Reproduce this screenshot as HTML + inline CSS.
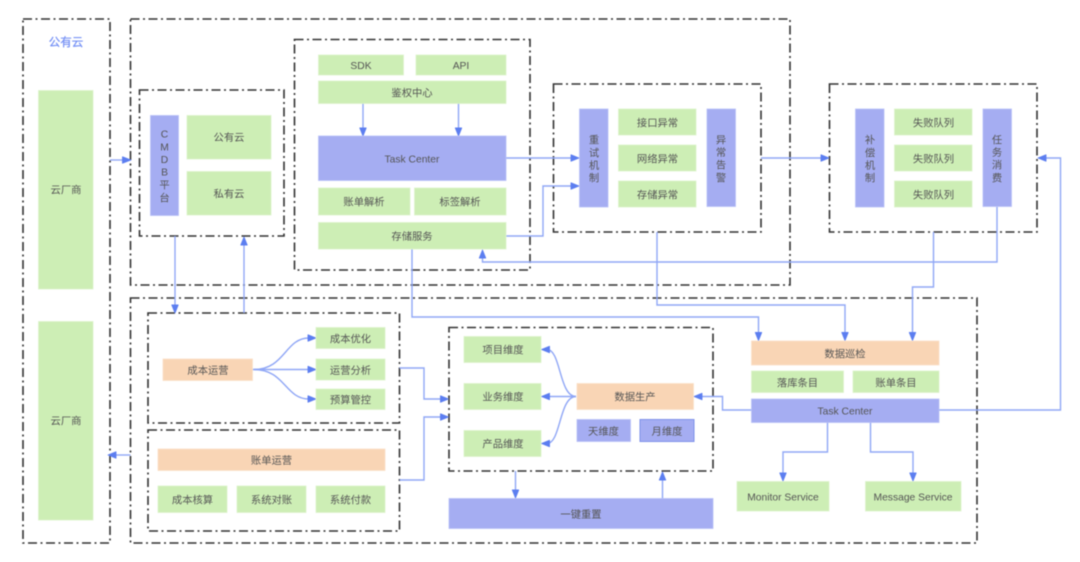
<!DOCTYPE html>
<html>
<head>
<meta charset="utf-8">
<style>
html,body{margin:0;padding:0;background:#fff;width:1080px;height:562px;overflow:hidden}
svg{display:block;filter:blur(0.4px)}
text{font-family:"Liberation Sans","Noto Sans CJK SC",sans-serif;font-size:10.3px;fill:#555;text-anchor:middle;dominant-baseline:central;transform:translateY(1px)}
.f{fill:none;stroke:#333;stroke-width:1.6;stroke-dasharray:9 3.5 2 3.5}
.g{fill:#cdeeb5;stroke:#dcf3cb;stroke-width:.8}
.b{fill:#a5adf2;stroke:#b8c0f7;stroke-width:.8}
.o{fill:#f9d5b5;stroke:#fbe0c8;stroke-width:.8}
.l{fill:none;stroke:#90a7f6;stroke-width:1.4}
.a{fill:#5c7ef0;stroke:#5c7ef0;stroke-width:.9;stroke-linejoin:round}
</style>
</head>
<body>
<svg width="1080" height="562" viewBox="0 0 1080 562" xmlns="http://www.w3.org/2000/svg">
<!-- frames -->
<rect class="f" x="23" y="19" width="87" height="524"/>
<rect class="f" x="130.500" y="19" width="659.500" height="266"/>
<rect class="f" x="139.500" y="90" width="144.500" height="146"/>
<rect class="f" x="294.500" y="39.500" width="235.500" height="230.500"/>
<rect class="f" x="553.500" y="84" width="207.500" height="148"/>
<rect class="f" x="829.500" y="84" width="207.500" height="148"/>
<rect class="f" x="130.500" y="298" width="846.500" height="245"/>
<rect class="f" x="148" y="313" width="251.500" height="110"/>
<rect class="f" x="148" y="430" width="251.500" height="101"/>
<rect class="f" x="449" y="327.500" width="264" height="143.500"/>

<!-- connectors -->
<path class="l" d="M110 160H124"/>
<path class="l" d="M175 236V306"/>
<path class="l" d="M244 313V243"/>
<path class="l" d="M363 103.500V129"/>
<path class="l" d="M458.500 103.500V129"/>
<path class="l" d="M506 158H572"/>
<path class="l" d="M506 236H543V186H572"/>
<path class="l" d="M997 207V262H482.500V256"/>
<path class="l" d="M412 249V317H758.500V334"/>
<path class="l" d="M657 232V305H845V334"/>
<path class="l" d="M933.500 232V287H912.500V334"/>
<path class="l" d="M761 158H822"/>
<path class="l" d="M939 410H1060.500V158H1044"/>
<path class="l" d="M751.500 410H722.500V396.500H700"/>
<path class="l" d="M827.500 422.500V452H783V474"/>
<path class="l" d="M870.500 422.500V452H913V474"/>
<path class="l" d="M515.500 471V491"/>
<path class="l" d="M662.500 498.500V478"/>
<path class="l" d="M399.500 368H424V399H442"/>
<path class="l" d="M399.500 480H424V417H442"/>
<path class="l" d="M130.500 455H115"/>
<path class="l" d="M252.500 369.500H309"/>
<path class="l" d="M254 369.500C285 369.500 285 338 309 338"/>
<path class="l" d="M254 369.500C285 369.500 285 399 309 399"/>
<path class="l" d="M576 396.500H548"/>
<path class="l" d="M576 396.500C559 396.500 561 349.500 547 349.500"/>
<path class="l" d="M576 396.500C559 396.500 561 443.500 547 443.500"/>

<!-- arrowheads -->
<path class="a" d="M122.500 156.800L131 160L122.500 163.200Z"/>
<path class="a" d="M171.800 305L175 313L178.200 305Z"/>
<path class="a" d="M240.800 245L244 237L247.200 245Z"/>
<path class="a" d="M359.800 128L363 136L366.200 128Z"/>
<path class="a" d="M455.300 128L458.500 136L461.700 128Z"/>
<path class="a" d="M571 154.800L579 158L571 161.200Z"/>
<path class="a" d="M571 182.800L579 186L571 189.200Z"/>
<path class="a" d="M479.300 258L482.500 250L485.700 258Z"/>
<path class="a" d="M755.300 332.500L758.500 340.500L761.700 332.500Z"/>
<path class="a" d="M841.800 332.500L845 340.500L848.200 332.500Z"/>
<path class="a" d="M909.300 332.500L912.500 340.500L915.700 332.500Z"/>
<path class="a" d="M821 154.800L829 158L821 161.200Z"/>
<path class="a" d="M1046 154.800L1038 158L1046 161.200Z"/>
<path class="a" d="M702 393.300L694 396.500L702 399.700Z"/>
<path class="a" d="M779.800 473L783 481L786.200 473Z"/>
<path class="a" d="M909.800 473L913 481L916.200 473Z"/>
<path class="a" d="M512.300 490L515.500 498L518.700 490Z"/>
<path class="a" d="M659.300 480L662.500 472L665.700 480Z"/>
<path class="a" d="M440.500 395.800L448.500 399L440.500 402.200Z"/>
<path class="a" d="M440.500 413.800L448.500 417L440.500 420.200Z"/>
<path class="a" d="M116 451.800L108 455L116 458.200Z"/>
<path class="a" d="M308 334.800L316 338L308 341.200Z"/>
<path class="a" d="M308 366.300L316 369.500L308 372.700Z"/>
<path class="a" d="M308 395.800L316 399L308 402.200Z"/>
<path class="a" d="M549.500 346.300L541.500 349.500L549.500 352.700Z"/>
<path class="a" d="M549.500 393.300L541.500 396.500L549.500 399.700Z"/>
<path class="a" d="M549.500 440.300L541.500 443.500L549.500 446.700Z"/>

<!-- nodes -->
<rect class="g" x="38.500" y="90.500" width="54.500" height="198.500"/>
<rect class="g" x="38.500" y="321.500" width="54.500" height="198.500"/>
<rect class="b" x="150.500" y="115.500" width="28" height="100"/>
<rect class="g" x="187" y="115.500" width="84" height="43.500"/>
<rect class="g" x="187" y="171.500" width="84" height="43.500"/>
<rect class="g" x="318.500" y="55" width="85" height="20"/>
<rect class="g" x="416" y="55" width="90" height="20"/>
<rect class="g" x="318.500" y="81" width="187.500" height="22.500"/>
<rect class="b" x="318.500" y="136" width="187.500" height="44.500"/>
<rect class="g" x="318.500" y="188" width="91.500" height="27"/>
<rect class="g" x="414.500" y="188" width="91.500" height="27"/>
<rect class="g" x="318.500" y="222.500" width="187.500" height="26.500"/>
<rect class="b" x="579.500" y="109" width="28.500" height="98"/>
<rect class="g" x="618.500" y="109" width="77.500" height="26"/>
<rect class="g" x="618.500" y="145" width="77.500" height="26"/>
<rect class="g" x="618.500" y="181" width="77.500" height="26"/>
<rect class="b" x="707" y="109" width="28.500" height="97.500"/>
<rect class="b" x="855.500" y="109" width="28.500" height="98"/>
<rect class="g" x="894.500" y="109" width="77.500" height="26"/>
<rect class="g" x="894.500" y="145" width="77.500" height="26"/>
<rect class="g" x="894.500" y="181" width="77.500" height="26"/>
<rect class="b" x="983" y="109" width="28.500" height="97.500"/>
<rect class="o" x="163" y="359" width="89.500" height="21.500"/>
<rect class="g" x="316" y="327.500" width="69" height="21"/>
<rect class="g" x="316" y="359" width="69" height="21"/>
<rect class="g" x="316" y="389" width="69" height="20.500"/>
<rect class="o" x="158" y="449" width="227" height="21.500"/>
<rect class="g" x="158" y="486" width="69" height="26.500"/>
<rect class="g" x="237" y="486" width="69" height="26.500"/>
<rect class="g" x="316" y="486" width="69" height="26.500"/>
<rect class="g" x="464" y="336.500" width="77" height="26"/>
<rect class="g" x="464" y="383.500" width="77" height="26"/>
<rect class="g" x="464" y="430.500" width="77" height="26"/>
<rect class="o" x="577" y="383.500" width="116.500" height="26"/>
<rect class="b" x="577" y="419.500" width="53.500" height="22"/>
<rect x="640" y="419.500" width="54" height="22" fill="#a5adf2" stroke="#7f92ea" stroke-width="1"/>
<rect class="b" x="449" y="498.500" width="264" height="30"/>
<rect class="o" x="751.500" y="341" width="187.500" height="24"/>
<rect class="g" x="751.500" y="371" width="92" height="21.500"/>
<rect class="g" x="853" y="371" width="86" height="21.500"/>
<rect class="b" x="751.500" y="399" width="187.500" height="23.500"/>
<rect class="g" x="737" y="481.500" width="92" height="29.500"/>
<rect class="g" x="865.500" y="481.500" width="95.500" height="29.500"/>

<!-- labels -->
<text x="66" y="42" style="font-size:11.500px;fill:#7490f5;stroke:#7490f5;stroke-width:.25">公有云</text>
<text x="66" y="190">云厂商</text>
<text x="66" y="421">云厂商</text>
<text x="164.500" y="134">C</text>
<text x="164.500" y="147">M</text>
<text x="164.500" y="159.500">D</text>
<text x="164.500" y="172">B</text>
<text x="164.500" y="185">平</text>
<text x="164.500" y="198">台</text>
<text x="229" y="137.500">公有云</text>
<text x="229" y="194">私有云</text>
<text x="361" y="65.500">SDK</text>
<text x="461" y="65.500">API</text>
<text x="412" y="93">鉴权中心</text>
<text x="412" y="159">Task Center</text>
<text x="364" y="202">账单解析</text>
<text x="460" y="202">标签解析</text>
<text x="412" y="236.500">存储服务</text>
<text x="594" y="140">重</text>
<text x="594" y="153">试</text>
<text x="594" y="165.500">机</text>
<text x="594" y="178">制</text>
<text x="657.500" y="123">接口异常</text>
<text x="657.500" y="159">网络异常</text>
<text x="657.500" y="195">存储异常</text>
<text x="721" y="140">异</text>
<text x="721" y="152.500">常</text>
<text x="721" y="165">告</text>
<text x="721" y="178">警</text>
<text x="870" y="140">补</text>
<text x="870" y="153">偿</text>
<text x="870" y="165.500">机</text>
<text x="870" y="178">制</text>
<text x="933.500" y="123">失败队列</text>
<text x="933.500" y="159">失败队列</text>
<text x="933.500" y="195">失败队列</text>
<text x="997" y="140">任</text>
<text x="997" y="152.500">务</text>
<text x="997" y="165">消</text>
<text x="997" y="178">费</text>
<text x="208" y="370.500">成本运营</text>
<text x="350.500" y="339">成本优化</text>
<text x="350.500" y="370.500">运营分析</text>
<text x="350.500" y="400">预算管控</text>
<text x="271.500" y="460.500">账单运营</text>
<text x="192.500" y="500">成本核算</text>
<text x="271.500" y="500">系统对账</text>
<text x="350.500" y="500">系统付款</text>
<text x="503" y="350">项目维度</text>
<text x="503" y="397">业务维度</text>
<text x="503" y="444">产品维度</text>
<text x="635" y="397">数据生产</text>
<text x="603.500" y="431.500">天维度</text>
<text x="667" y="431.500">月维度</text>
<text x="581" y="514.500">一键重置</text>
<text x="845" y="354">数据巡检</text>
<text x="797.500" y="383">落库条目</text>
<text x="896" y="383">账单条目</text>
<text x="845" y="411">Task Center</text>
<text x="783" y="497">Monitor Service</text>
<text x="913" y="497">Message Service</text>
</svg>
</body>
</html>
